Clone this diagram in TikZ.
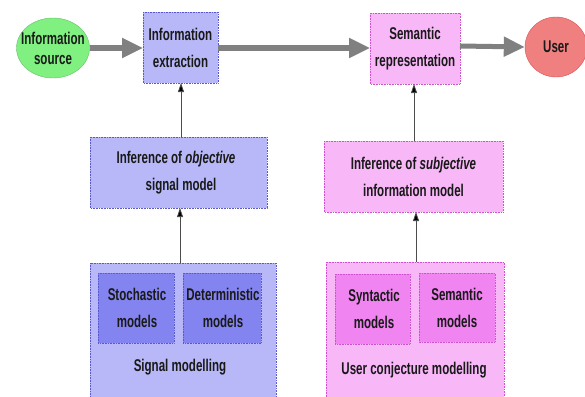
\documentclass[tikz,border=0pt]{standalone}
\usepackage{fontspec}
\setmainfont{Liberation Sans}[FakeStretch=0.68]
\usetikzlibrary{arrows.meta,shapes.geometric}
\definecolor{bfill}{HTML}{B8B8F8}
\definecolor{bdark}{HTML}{8484F0}
\definecolor{bline}{HTML}{5858D0}
\definecolor{pfill}{HTML}{F8B8F8}
\definecolor{pdark}{HTML}{F084F0}
\definecolor{pline}{HTML}{D050D0}
\definecolor{gfill}{HTML}{80F080}
\definecolor{rfill}{HTML}{F08080}
\definecolor{rline}{HTML}{D85050}
\definecolor{bigarrow}{HTML}{808080}
\tikzset{
  txt/.style={font=\fontsize{17}{27}\selectfont\bfseries, text=black!90, align=center, inner sep=0pt},
  bbox/.style={draw=bline, densely dotted, line width=0.6pt, fill=bfill},
  bin/.style={draw=bline, densely dotted, line width=0.6pt, fill=bdark},
  pbox/.style={draw=pline, densely dotted, line width=0.6pt, fill=pfill},
  pin/.style={draw=pline, densely dotted, line width=0.6pt, fill=pdark},
  bigarr/.style={draw=bigarrow, line width=5pt, -{Triangle[length=21pt,width=19pt]}},
  thinarr/.style={draw=black!70, line width=0.8pt, -{Triangle[length=9pt,width=6pt,fill=black]}},
}
\begin{document}
\begin{tikzpicture}[x=1pt,y=-1pt]
\useasboundingbox (0,0) rectangle (585,396);
% top row
\node[ellipse, draw=gfill!80!black, fill=gfill, minimum width=73pt, minimum height=60pt, inner sep=0pt] (src) at (53,48) {};
\node[txt, font=\fontsize{17}{20}\selectfont\bfseries] (srct) at (src.center) {Information\\source};
\draw[bbox] (143,12) rectangle (218,83);
\node[txt] (ext) at (180.5,47.5) {Information\\extraction};
\coordinate (extL) at (143,48);
\coordinate (extR) at (218,48);
\coordinate (extB) at (181,83);
\draw[pbox] (370,13) rectangle (460,84);
\node[txt] (sem) at (415,48.5) {Semantic\\representation};
\coordinate (semL) at (370,48);
\coordinate (semR) at (460,46);
\coordinate (semB) at (414,84);
\node[ellipse, draw=rline, fill=rfill, minimum width=62pt, minimum height=60pt, inner sep=0pt] (user) at (556,47) {};
\node[txt] (usert) at (user.center) {User};
% middle row
\draw[bbox] (90,137) rectangle (267,208);
\node[txt] (inf1) at (176,172.5) {Inference of \textit{objective}\\\hspace*{10pt}signal model};
\coordinate (inf1T) at (181,137);
\coordinate (inf1B) at (180,208);
\draw[pbox] (324,141) rectangle (503,212);
\node[txt] (inf2) at (413.5,176.5) {Inference of \textit{subjective}\\information model};
\coordinate (inf2T) at (414,141);
\coordinate (inf2B) at (416,212);
% bottom row
\draw[bbox] (90,263) rectangle (276,400);
\draw[bin] (98,273) rectangle (174,343);
\draw[bin] (183,273) rectangle (261,343);
\node[txt] (sto) at (137,308) {Stochastic\\models};
\node[txt] (det) at (223,308) {Deterministic\\models};
\node[txt] (sigm) at (180,367) {Signal modelling};
\coordinate (sigT) at (180,263);
\draw[pbox] (326,262) rectangle (504,400);
\draw[pin] (335,274) rectangle (410,344);
\draw[pin] (419,273) rectangle (495,342);
\node[txt] (syn) at (374,309) {Syntactic\\models};
\node[txt] (semm) at (457,307.5) {Semantic\\models};
\node[txt] (ucm) at (414,370) {User conjecture modelling};
\coordinate (ucmT) at (416,262);
% arrows
\draw[bigarr] (src.east) -- (extL);
\draw[bigarr] (extR) -- (semL);
\draw[bigarr] (semR) -- (user.west);
\draw[thinarr] (inf1T) -- (extB);
\draw[thinarr] (sigT) -- (inf1B);
\draw[thinarr] (inf2T) -- (semB);
\draw[thinarr] (ucmT) -- (inf2B);
\end{tikzpicture}
\end{document}
